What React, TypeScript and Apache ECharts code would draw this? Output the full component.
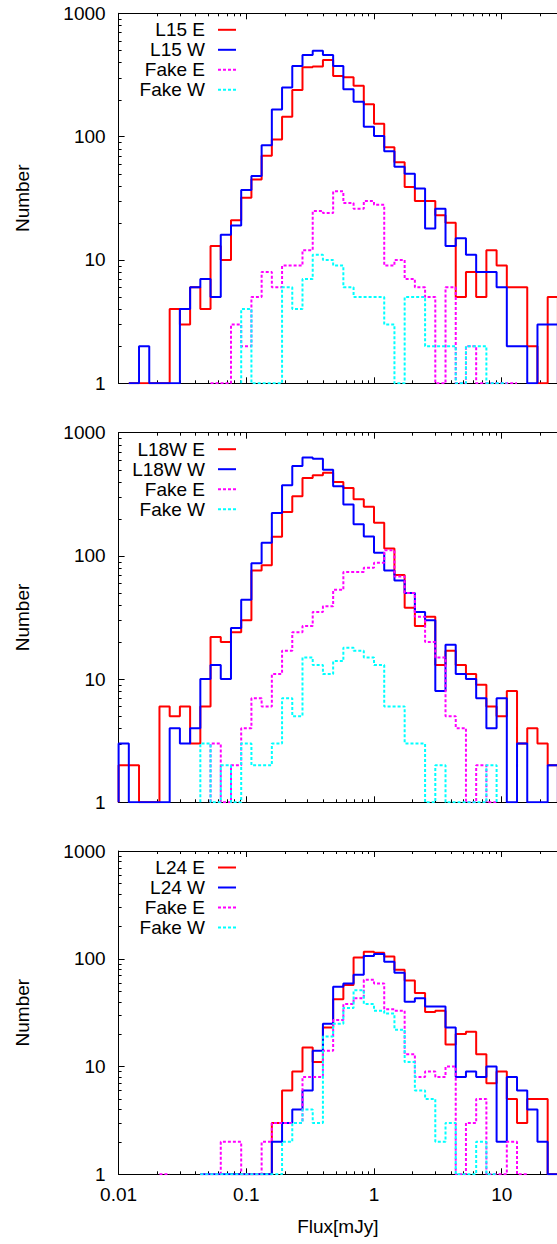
import React, { useEffect, useRef } from "react";
import * as echarts from "echarts";

// Histogram binning: bins are 0.08 dex wide, first bin edge at 0.01 (log10 = -2)
const LOG_START = -2;
const LOG_STEP = 0.08;

const X_MIN = 0.01;
const X_MAX = 27.1;
const Y_MIN = 1;
const Y_MAX = 1000;

const X_MAJOR = [0.01, 0.1, 1, 10];
const X_MINOR = [0.02, 0.03, 0.04, 0.05, 0.06, 0.07, 0.08, 0.09, 0.2, 0.3, 0.4, 0.5, 0.6, 0.7, 0.8, 0.9, 2, 3, 4, 5, 6, 7, 8, 9, 20];
const Y_MAJOR = [1, 10, 100, 1000];
const Y_MINOR = [2, 3, 4, 5, 6, 7, 8, 9, 20, 30, 40, 50, 60, 70, 80, 90, 200, 300, 400, 500, 600, 700, 800, 900];

const N = null;

// Panel 1 (L15)
const L15_E = [N, 1, 1, 1, 1, 4, 3, 6, 4, 13, 10, 21, 32, 45, 70, 95, 145, 239, 365, 370, 418, 310, 303, 259, 183, 127, 82, 62, 39, 30, 30, 23, 20, 5, 8, 5, 12, 9, 6, 6, 2, 1, 5];
const L15_W = [N, 1, 2, 1, 1, 1, 4, 6, 7, 5, 16, 19, 37, 48, 85, 166, 250, 374, 459, 498, 459, 374, 242, 192, 120, 101, 76, 57, 50, 38, 18, 26, 13, 15, 11, 8, 8, 6, 2, 2, 1, 3, 3];
const FAKE_E_1 = [N, N, N, N, N, N, N, N, N, 1, 1, 3, 2, 5, 8, 6, 9, 9, 12, 25, 24, 36, 29, 26, 30, 28, 9, 10, 7, 6, 5, 1, 6, 1, 2, 1, 1, 1, 1, N, N, N, N];
const FAKE_W_1 = [N, N, N, N, N, N, N, N, N, N, N, N, 4, 1, 1, 1, 6, 4, 7, 11, 10, 9, 6, 5, 5, 5, 3, 1, 5, 5, 2, 2, 2, 1, 2, 2, 1, 1, N, N, N, N, N];

// Panel 2 (L18W)
const L18W_E = [2, 2, 1, 1, 6, 5, 6, 3, 6, 22, 20, 24, 30, 76, 84, 143, 227, 305, 429, 451, 474, 398, 356, 288, 250, 186, 115, 70, 38, 27, 32, 13, 17, 13, 11, 9, 6, 5, 8, 3, 4, 3, 2];
const L18W_W = [3, 1, 1, 1, 1, 4, 3, 4, 10, 13, 10, 26, 44, 87, 128, 223, 374, 537, 630, 615, 500, 367, 261, 181, 144, 106, 76, 63, 50, 35, 30, 8, 19, 11, 10, 7, 4, 7, 1, 3, 1, 1, 2];
const FAKE_E_2 = [N, N, N, N, N, N, N, N, N, 3, 1, 2, 4, 7, 6, 11, 17, 24, 27, 35, 39, 53, 74, 74, 80, 88, 111, 68, 50, 32, 20, 15, 5, 4, 1, 2, 1, N, N, N, N, N, N];
const FAKE_W_2 = [N, N, N, N, N, N, N, N, 3, 1, 2, 1, 3, 2, 2, 3, 7, 5, 15, 13, 11, 14, 18, 17, 15, 13, 6, 6, 3, 3, 1, 2, 1, 1, 1, 1, 2, N, N, N, N, N, N];

// Panel 3 (L24)
const L24_E = [N, N, N, N, N, N, N, N, N, N, N, 1, 1, 1, 1, 3, 6, 9, 15, 11, 23, 42, 57, 103, 116, 114, 105, 79, 63, 48, 32, 33, 16, 20, 21, 13, 7, 9, 5, 3, 5, 5, 1];
const L24_W = [N, N, N, N, N, N, N, N, 1, 1, 1, 1, 1, 1, 1, 2, 3, 4, 6, 14, 25, 55, 59, 71, 106, 111, 94, 74, 40, 43, 36, 36, 23, 8, 9, 8, 10, 2, 8, 6, 4, 2, 1];
const FAKE_E_3 = [N, N, N, N, 1, N, N, N, 1, 1, 2, 2, 1, 1, 2, 3, 3, 3, 8, 8, 14, 27, 38, 43, 64, 59, 34, 33, 13, 8, 9, 8, 10, 1, 3, 5, 1, 1, 2, 1, N, N, N];
const FAKE_W_3 = [N, N, N, N, N, N, N, N, 1, 1, 1, 1, 1, 1, 1, 1, 2, 3, 4, 3, 19, 25, 35, 51, 38, 33, 31, 22, 11, 6, 5, 2, 3, 1, 1, 2, 1, N, N, N, N, N, N];

const PANEL_NAMES = [
  ["L15 E", "L15 W", "Fake E", "Fake W"],
  ["L18W E", "L18W W", "Fake E", "Fake W"],
  ["L24 E", "L24 W", "Fake E", "Fake W"],
];
const PANEL_DATA = [
  [L15_E, L15_W, FAKE_E_1, FAKE_W_1],
  [L18W_E, L18W_W, FAKE_E_2, FAKE_W_2],
  [L24_E, L24_W, FAKE_E_3, FAKE_W_3],
];

const COLORS = ["#ff0000", "#0000ff", "#ff00ff", "#00ffff"];
const DASHED = [false, false, true, true];
const DASH: number[] = [3, 2];

const W = 557;
const H = 1244;
const GRID_LEFT = 118.6;
const GRIDS = [
  { top: 13.3, height: 370 },
  { top: 432.7, height: 369.6 },
  { top: 851, height: 323.3 },
];
const FONT = "'Liberation Sans', Arial, Helvetica, sans-serif";
const FS = 19;

function stepPoints(counts: (number | null)[]) {
  const pts: any[] = [];
  let inRun = false;
  const edge = (k: number) => Math.pow(10, LOG_START + k * LOG_STEP);
  counts.forEach((c, k) => {
    const lo = edge(k);
    const hi = edge(k + 1);
    if (c == null) {
      if (inRun) {
        pts.push([lo, Y_MIN]);
        pts.push([lo, "-"]);
        inRun = false;
      }
      return;
    }
    if (!inRun) {
      pts.push([lo, Y_MIN]);
      inRun = true;
    }
    pts.push([lo, c], [hi, c]);
  });
  if (inRun) pts.push([edge(counts.length), Y_MIN]);
  return pts;
}

export default function App() {
  const ref = useRef<HTMLDivElement>(null);
  useEffect(() => {
    if (!ref.current) return;
    const chart = echarts.init(ref.current, null, { renderer: "svg", width: W, height: H });

    const grid: any[] = [];
    const xAxis: any[] = [];
    const yAxis: any[] = [];
    const series: any[] = [];

    GRIDS.forEach((g, gi) => {
      grid.push({ left: GRID_LEFT, right: 0, top: g.top, height: g.height, containLabel: false, outerBoundsMode: "none" });
      const baseX = {
        type: "log",
        logBase: 10,
        gridIndex: gi,
        min: X_MIN,
        max: X_MAX,
        splitLine: { show: false },
        minorTick: { show: false },
        axisLine: { show: true, onZero: false, lineStyle: { color: "#000", width: 1 } },
        axisTick: { show: true, inside: true, length: 6, customValues: X_MAJOR, lineStyle: { color: "#000", width: 1 } },
      };
      xAxis.push({
        ...baseX,
        position: "bottom",
        axisLabel:
          gi === 2
            ? {
                show: true,
                customValues: X_MAJOR,
                formatter: (v: number) => String(v),
                color: "#000",
                fontFamily: FONT,
                fontSize: FS,
                margin: 11,
                showMinLabel: true,
                showMaxLabel: true,
              }
            : { show: false },
        name: gi === 2 ? "Flux[mJy]" : "",
        nameLocation: "middle",
        nameGap: 43,
        nameTextStyle: { color: "#000", fontFamily: FONT, fontSize: FS },
      });
      xAxis.push({ ...baseX, position: "top", axisLabel: { show: false } });
      yAxis.push({
        type: "log",
        logBase: 10,
        gridIndex: gi,
        min: Y_MIN,
        max: Y_MAX,
        position: "left",
        splitLine: { show: false },
        minorTick: { show: false },
        axisLine: { show: true, onZero: false, lineStyle: { color: "#000", width: 1 } },
        axisTick: { show: true, inside: true, length: 6, customValues: Y_MAJOR, lineStyle: { color: "#000", width: 1 } },
        axisLabel: {
          show: true,
          customValues: Y_MAJOR,
          formatter: (v: number) => String(v),
          color: "#000",
          fontFamily: FONT,
          fontSize: FS,
          margin: 13,
          showMinLabel: true,
          showMaxLabel: true,
        },
      });
      PANEL_DATA[gi].forEach((arr, si) => {
        series.push({
          type: "line",
          name: PANEL_NAMES[gi][si],
          xAxisIndex: gi * 2,
          yAxisIndex: gi,
          data: stepPoints(arr),
          showSymbol: false,
          symbol: "none",
          connectNulls: false,
          silent: true,
          clip: true,
          lineStyle: { color: COLORS[si], width: 2, type: DASHED[si] ? DASH : "solid" },
          emphasis: { disabled: true },
        });
      });
    });

    chart.setOption({
      animation: false,
      backgroundColor: "#fff",
      grid,
      xAxis,
      yAxis,
      series,
    });

    // Minor ticks, legends and y-axis titles, positioned through the axes' scales
    const graphic: any[] = [];
    GRIDS.forEach((g, gi) => {
      const xi = gi * 2;
      const yBottom = chart.convertToPixel({ yAxisIndex: gi }, Y_MIN) as number;
      const yTop = chart.convertToPixel({ yAxisIndex: gi }, Y_MAX) as number;
      const xLeft = chart.convertToPixel({ xAxisIndex: xi }, X_MIN) as number;
      X_MINOR.forEach((v) => {
        const px = Math.round(chart.convertToPixel({ xAxisIndex: xi }, v) as number) + 0.5;
        graphic.push({ type: "line", silent: true, shape: { x1: px, y1: yBottom, x2: px, y2: yBottom - 3 }, style: { stroke: "#000", lineWidth: 1 } });
        graphic.push({ type: "line", silent: true, shape: { x1: px, y1: yTop, x2: px, y2: yTop + 3 }, style: { stroke: "#000", lineWidth: 1 } });
      });
      Y_MINOR.forEach((v) => {
        const py = Math.round(chart.convertToPixel({ yAxisIndex: gi }, v) as number) + 0.5;
        graphic.push({ type: "line", silent: true, shape: { x1: xLeft, y1: py, x2: xLeft + 3, y2: py }, style: { stroke: "#000", lineWidth: 1 } });
      });
      // legend
      PANEL_NAMES[gi].forEach((name, si) => {
        const y = yTop + 16.5 + si * 20;
        graphic.push({
          type: "text",
          silent: true,
          x: 205,
          y,
          style: { text: name, fill: "#000", font: `${FS}px ${FONT}`, textAlign: "right", textVerticalAlign: "middle" },
        });
        graphic.push({
          type: "line",
          silent: true,
          shape: { x1: 218, y1: y, x2: 236, y2: y },
          style: { stroke: COLORS[si], lineWidth: 2, lineDash: DASHED[si] ? DASH : null },
        });
      });
      graphic.push({
        type: "text",
        silent: true,
        x: 22,
        y: (yTop + yBottom) / 2,
        rotation: Math.PI / 2,
        style: { text: "Number", fill: "#000", font: `${FS}px ${FONT}`, textAlign: "center", textVerticalAlign: "middle" },
      });
    });
    chart.setOption({ graphic });

    return () => chart.dispose();
  }, []);

  return <div ref={ref} style={{ position: "absolute", left: 0, top: 0, width: W, height: H, background: "#fff" }} />;
}
